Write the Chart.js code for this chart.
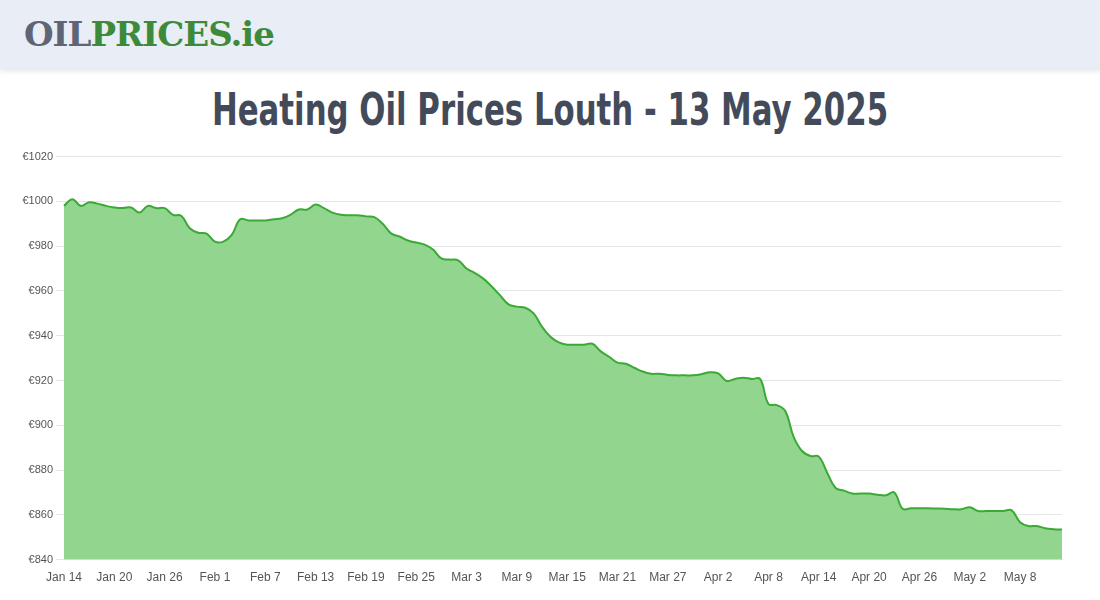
<!DOCTYPE html>
<html>
<head>
<meta charset="utf-8">
<script src="https://cdn.jsdelivr.net/npm/chart.js@4"></script>
<style>
  body { margin: 0; width: 1100px; height: 600px; background: #fff; font-family: "Liberation Sans", Arial, sans-serif; overflow: hidden; }
  #header { position: absolute; left: 0; top: 0; width: 1100px; height: 70px; background: #e9edf5; box-shadow: 0 2px 4px rgba(0,0,0,0.08); }
  #logo { position: absolute; left: 24px; top: 14px; font-family: "DejaVu Serif", serif; font-weight: bold; font-size: 34px; letter-spacing: -1px; }
  #logo .a { color: #5d6577; } #logo .b { color: #3d8b3a; }
  #title { position: absolute; left: 0; top: 84px; width: 1100px; text-align: center; font-family: "DejaVu Sans", sans-serif; font-weight: bold; font-size: 44px; color: #434b5a; transform: scaleX(0.70); transform-origin: 550px 0; }
  #wrap { position: absolute; left: 0; top: 147px; width: 1100px; height: 441px; }
</style>
</head>
<body>
<div id="header"><div id="logo"><span class="a">OIL</span><span class="b">PRICES.ie</span></div></div>
<div id="title">Heating Oil Prices Louth - 13 May 2025</div>
<div id="wrap"><canvas id="graph"></canvas></div>
<script>
var prices = [
  998,1001,998,999.6,999,998,997.3,997,997.3,995,
  998,997,997,994,993.5,988,986,985.6,982,982,
  985,992,991.5,991.5,991.5,992,992.5,994,996.4,996.4,
  998.6,997,995,994,993.8,993.8,993.3,993,990,985.7,
  984.3,982.5,981.6,980.7,978.5,974.5,974,973.7,970,968,
  965.5,962,958,954,953,952.5,950,944,939.5,937,
  936,936,936,936.4,933,930.6,928,927.5,925.7,924,
  923,923,922.5,922.3,922.3,922.3,922.8,923.7,923.2,919.8,
  920.7,921.2,920.7,920.7,909.5,909,906.4,894.8,888.5,886.3,
  886,878.8,872,870.8,869.5,869.5,869.5,869,868.7,870,
  862.7,862.9,862.9,862.9,862.8,862.7,862.5,862.5,863.4,861.7,
  861.7,861.7,861.7,862,856.7,855,855,854,853.6,853.4
];
var months = ['Jan','Feb','Mar','Apr','May'];
var monthDays = [31,28,31,30,31];
var labels = [];
var m = 0, d = 14;
for (var i = 0; i < prices.length; i++) {
  labels.push(months[m] + ' ' + d);
  d++;
  if (d > monthDays[m]) { d = 1; m++; }
}

var ctx = document.getElementById('graph').getContext('2d');
new Chart(ctx, {
  type: 'line',
  data: {
    labels: labels,
    datasets: [{
      data: prices,
      borderColor: '#3aaa35',
      backgroundColor: '#91d58f',
      borderWidth: 2,
      fill: true,
      tension: 0.4,
      pointRadius: 0
    }]
  },
  options: {
    responsive: true,
    maintainAspectRatio: false,
    animation: false,
    layout: { padding: { top: 8, right: 38 } },
    plugins: { legend: { display: false }, tooltip: { enabled: false } },
    scales: {
      x: {
        grid: { display: false },
        border: { color: '#ddd' },
        ticks: {
          autoSkip: false, maxRotation: 0, color: '#555', font: { size: 12 },
          callback: function (v, i) { return i % 6 === 0 ? labels[i] : null; }
        }
      },
      y: {
        min: 840, max: 1020,
        afterFit: function (s) { s.width = 64; },
        grid: { color: '#e6e6e6' },
        border: { display: false },
        ticks: { stepSize: 20, color: '#555', font: { size: 11 }, callback: function (v) { return '€' + v; } }
      }
    }
  }
});
</script>
</body>
</html>
